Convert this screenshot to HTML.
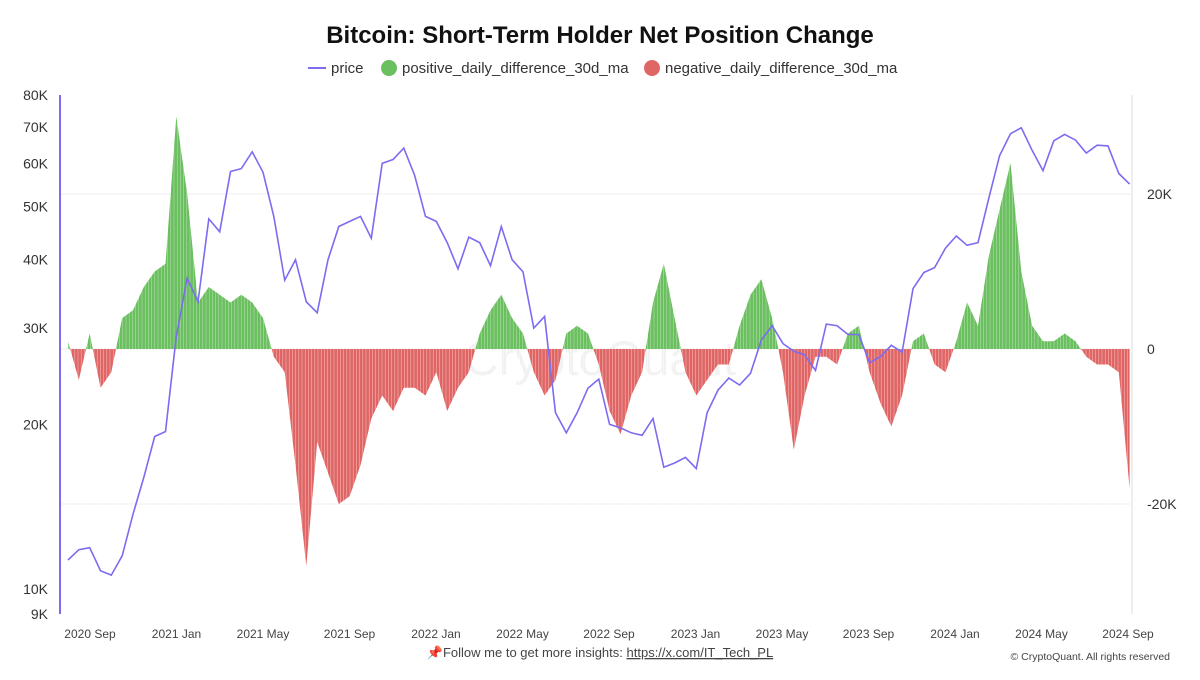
<!DOCTYPE html>
<html><head><meta charset="utf-8"><style>
body{margin:0;background:#fff;font-family:"Liberation Sans",sans-serif;}
svg text{font-family:"Liberation Sans",sans-serif;}
</style></head><body>
<svg id="c" width="1200" height="675" xmlns="http://www.w3.org/2000/svg">
<defs>
<clipPath id="above"><rect x="0" y="0" width="1200" height="349"/></clipPath>
<clipPath id="below"><rect x="0" y="349" width="1200" height="326"/></clipPath>
</defs>
<text x="600" y="43" text-anchor="middle" font-size="24" font-weight="bold" fill="#111">Bitcoin: Short-Term Holder Net Position Change</text>
<g font-size="15" fill="#333">
<line x1="308" y1="68" x2="326" y2="68" stroke="#7b6cf0" stroke-width="2"/><text x="331" y="73">price</text>
<circle cx="389" cy="68" r="8" fill="#6abf5e"/><text x="402" y="73">positive_daily_difference_30d_ma</text>
<circle cx="652" cy="68" r="8" fill="#e06666"/><text x="665" y="73">negative_daily_difference_30d_ma</text>
</g>
<text x="600" y="375" text-anchor="middle" font-size="48" fill="#000" opacity="0.05">CryptoQuant</text>
<g id="grid"></g><g id="bars"></g><g id="line"></g><g id="axes"></g>
<text x="600" y="657" text-anchor="middle" font-size="13" fill="#444">📌Follow me to get more insights: <tspan text-decoration="underline">https://x.com/IT_Tech_PL</tspan></text>
<text x="1170" y="660" text-anchor="end" font-size="10.5" fill="#444">© CryptoQuant. All rights reserved</text>
</svg>
<script>
const prices=[11.3,11.8,11.9,10.8,10.6,11.5,13.7,16,19,19.4,
29,37,33.5,47.5,45,58,58.7,63,57.8,48,36.7,40,33.5,32,40,46,47,48,43.8,60,61,64,57,48,
47,43,38.5,44,43,39,46,40,38,30,31.5,21,19.3,21,23.3,24.2,20,19.7,19.3,19.1,20.5,16.7,17,17.4,
16.6,21,23.1,24.3,23.6,24.8,28.5,30.3,28.1,27.2,26.8,25.1,30.5,30.3,29.2,29.2,25.9,26.6,27.9,27.1,35.4,37.9,38.7,42,
44.2,42.5,43,51.8,62,68,69.7,63.4,58.2,66,67.8,66.2,62.7,64.8,64.6,57.5,55];
const netChange=[1,-4,2,-5,-3,4,5,8,10,11,
30,20,6,8,7,6,7,6,4,-1,-3,-15,-28,-12,-16,-20,-19,-15,-9,-6,-8,-5,-5,-6,
-3,-8,-5,-3,2,5,7,4,2,-3,-6,-4,2,3,2,-2,-8,-11,-6,-3,6,11,4,-3,
-6,-4,-2,-2,3,7,9,4,-3,-13,-6,-1,-1,-2,2,3,-3,-7,-10,-6,1,2,-2,-3,
1,6,3,12,18,24,10,3,1,1,2,1,-1,-2,-2,-3,-18];
const leftTicks=[9,10,20,30,40,50,60,70,80];
const rightTicks=[-20,0,20];
const xTicks=["2020 Sep","2021 Jan","2021 May","2021 Sep","2022 Jan","2022 May","2022 Sep","2023 Jan","2023 May","2023 Sep","2024 Jan","2024 May","2024 Sep"];
const NS="http://www.w3.org/2000/svg";
const X0=68,DX=(1128-68)/(prices.length-1.15);
const xs=i=>X0+i*DX;
const xMonth=k=>90+k*(1128-90)/12;
const yL=v=>614-Math.log(v/9)*237.5;
const yR=v=>349-v*7.75;
function mk(tag,attrs,parent){const e=document.createElementNS(NS,tag);for(const k in attrs)e.setAttribute(k,attrs[k]);document.getElementById(parent).appendChild(e);return e;}
rightTicks.forEach(t=>{const g=mk('line',{x1:60,x2:1130,y1:yR(t),y2:yR(t),stroke:'#eee'},'grid');

});
const areaD='M'+xs(0).toFixed(1)+' '+yR(0)+netChange.map((v,i)=>'L'+xs(i).toFixed(1)+' '+yR(v).toFixed(1)).join('')+'L'+xs(netChange.length-1).toFixed(1)+' '+yR(0)+'Z';
const pa=mk('path',{d:areaD,fill:'#6abf5e','clip-path':'url(#above)'},'bars');


const na=mk('path',{d:areaD,fill:'#e06666','clip-path':'url(#below)'},'bars');


for(let x=62;x<1132;x+=3.2){const l=mk('line',{x1:x,x2:x,y1:100,y2:600,stroke:'#fff','stroke-width':0.5,opacity:0.6},'bars');

}
const p=mk('path',{d:prices.map((v,i)=>(i?'L':'M')+xs(i).toFixed(1)+' '+yL(v).toFixed(1)).join(''),fill:'none',stroke:'#7b6cf0','stroke-width':1.6},'line');


const ax=mk('line',{x1:60,x2:60,y1:95,y2:614,stroke:'#7b6cf0','stroke-width':2},'axes');


const ar=mk('line',{x1:1132,x2:1132,y1:95,y2:614,stroke:'#ddd'},'axes');


leftTicks.forEach(t=>{const e=mk('text',{x:48,y:yL(t)+5,'text-anchor':'end','font-size':14,fill:'#333'},'axes');e.textContent=t+'K';

});
rightTicks.forEach(t=>{const e=mk('text',{x:1147,y:yR(t)+5,'font-size':14,fill:'#333'},'axes');e.textContent=t===0?'0':t+'K';

});
xTicks.forEach((t,k)=>{const e=mk('text',{x:xMonth(k),y:638,'text-anchor':'middle','font-size':12,fill:'#444'},'axes');e.textContent=t;

});
</script>
</body></html>
